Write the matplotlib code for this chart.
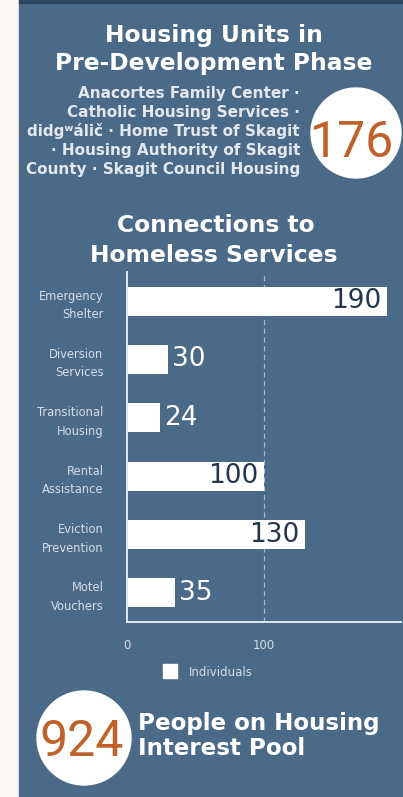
import matplotlib
matplotlib.use("Agg")
import matplotlib.pyplot as plt
from matplotlib.patches import Rectangle, Circle

# ---- data ----
categories = ["Emergency\nShelter", "Diversion\nServices", "Transitional\nHousing",
              "Rental\nAssistance", "Eviction\nPrevention", "Motel\nVouchers"]
individuals = [190, 30, 24, 100, 130, 35]
x_ticks = [0, 100]
legend_label = "Individuals"
units_pre_dev = 176
interest_pool = 924
orgs_lines = ["Anacortes Family Center ·", "Catholic Housing Services ·",
              "didgʷálič · Home Trust of Skagit", "· Housing Authority of Skagit",
              "County · Skagit Council Housing"]

W, H = 403, 797
BLUE = "#4b6a88"
CREAM = "#fdf8f4"
ORANGE = "#c0612b"
DARK = "#22364d"
LIGHT = "#d5dde6"

fig = plt.figure(figsize=(W / 100, H / 100), dpi=100, facecolor=CREAM)

# overlay in pixel coordinates
ov = fig.add_axes([0, 0, 1, 1])
ov.set_xlim(0, W)
ov.set_ylim(H, 0)
ov.axis("off")
ov.add_patch(Rectangle((19, 0), W - 19, H, color=BLUE, zorder=0))
ov.add_patch(Rectangle((19, 0), W - 19, 2.5, color="#2c4660", zorder=1))

title_kw = dict(color="white", fontweight="bold", ha="center", va="baseline",
                family="DejaVu Sans")
ov.text(214, 42, "Housing Units in", fontsize=16.8, **title_kw)
ov.text(214, 70, "Pre-Development Phase", fontsize=16.8, **title_kw)

for i, line in enumerate(orgs_lines):
    ov.text(300, 98 + i * 19, line, color="#e2e8ee", fontsize=11, fontweight="bold",
            ha="right", va="baseline", family="DejaVu Sans")

ov.add_patch(Circle((356, 133), 45, color="white", zorder=2))
ov.text(352, 157, str(units_pre_dev), color=ORANGE, fontsize=36, ha="center",
        va="baseline", zorder=3, family="Roboto")

ov.text(216, 232, "Connections to", fontsize=16.8, **title_kw)
ov.text(214, 262, "Homeless Services", fontsize=16.8, **title_kw)

ov.add_patch(Circle((84, 738), 47, color="white", zorder=2))
ov.text(82, 756, str(interest_pool), color=ORANGE, fontsize=36, ha="center",
        va="baseline", zorder=3, family="Roboto")
ov.text(138, 730, "People on Housing", color="white", fontsize=16.6, ha="left",
        va="baseline", family="DejaVu Sans", fontweight="semibold")
ov.text(138, 755, "Interest Pool", color="white", fontsize=16.6, ha="left",
        va="baseline", family="DejaVu Sans", fontweight="semibold")

# legend
ov.add_patch(Rectangle((163, 664), 14, 14, color="white", zorder=2))
ov.text(189, 672, legend_label, color=LIGHT, fontsize=8.5, ha="left", va="center",
        family="DejaVu Sans")

# ---- bar chart ----
left, right, top, bottom = 127, 401, 272, 622
ax = fig.add_axes([left / W, 1 - bottom / H, (right - left) / W, (bottom - top) / H])
ax.set_facecolor("none")
ypos = list(range(len(categories)))
ax.barh(ypos, individuals, height=0.5, color="white", zorder=2)
ax.set_xlim(0, 200)
ax.set_ylim(len(categories) - 0.5, -0.5)
ax.axvline(100, color="#a9b9ca", lw=0.9, ls=(0, (4, 3)), zorder=1)

for s in ["top", "right"]:
    ax.spines[s].set_visible(False)
for s in ["left", "bottom"]:
    ax.spines[s].set_color("#e3e8ee")
    ax.spines[s].set_linewidth(1.4)

ax.set_yticks(ypos)
ax.set_yticklabels(categories, color=LIGHT, fontsize=8.3, family="DejaVu Sans",
                   linespacing=1.55)
ax.tick_params(axis="y", length=0, pad=17)
ax.set_xticks(x_ticks)
ax.set_xticklabels([str(t) for t in x_ticks], color=LIGHT, fontsize=8.5,
                   family="DejaVu Sans")
ax.tick_params(axis="x", length=0, pad=12)

for y, v in zip(ypos, individuals):
    if v > 60:
        ax.annotate(str(v), (v, y), xytext=(-4, 0), textcoords="offset points",
                    ha="right", va="center", color=DARK, fontsize=19,
                    family="DejaVu Sans", zorder=3)
    else:
        ax.annotate(str(v), (v, y), xytext=(3, 0), textcoords="offset points",
                    ha="left", va="center", color="white", fontsize=19,
                    family="DejaVu Sans", zorder=3)

fig.savefig("out.png", dpi=100, facecolor=CREAM)
